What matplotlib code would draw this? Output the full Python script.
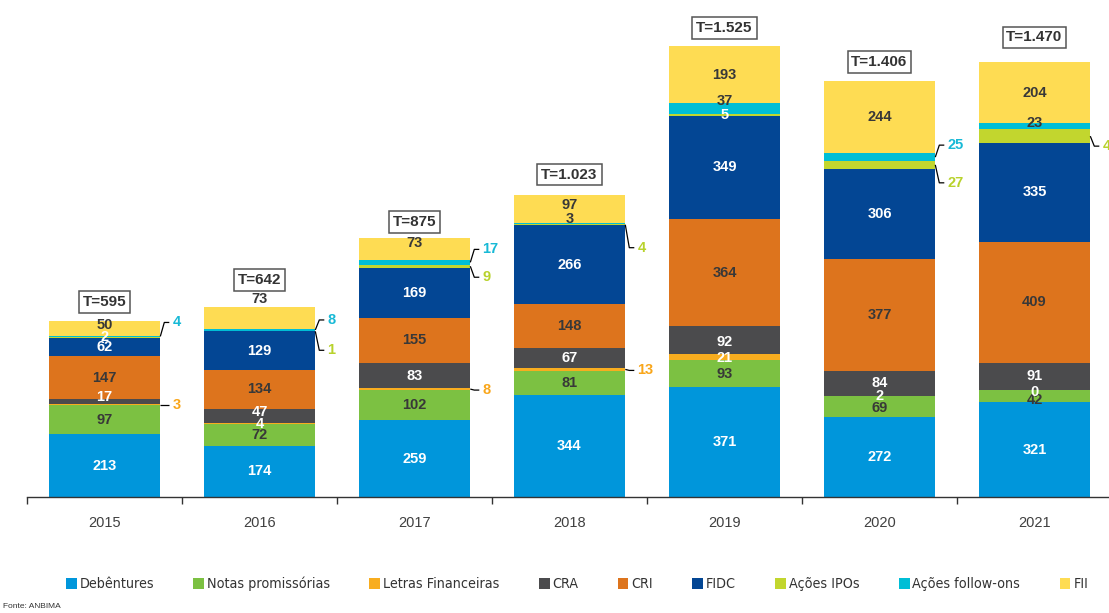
import matplotlib
matplotlib.use("Agg")
import matplotlib.pyplot as plt
from matplotlib import font_manager as fm
from matplotlib.patches import Patch
import numpy as np

years = ['2015', '2016', '2017', '2018', '2019', '2020', '2021']
series_names = ['Debêntures', 'Notas promissórias', 'Letras Financeiras', 'CRA', 'CRI',
                'FIDC', 'Ações IPOs', 'Ações follow-ons', 'FII']
debentures = [213, 174, 259, 344, 371, 272, 321]
notas = [97, 72, 102, 81, 93, 69, 42]
letras = [3, 4, 8, 13, 21, 2, 0]
cra = [17, 47, 83, 67, 92, 84, 91]
cri = [147, 134, 155, 148, 364, 377, 409]
fidc = [62, 129, 169, 266, 349, 306, 335]
ipos = [2, 1, 9, 4, 5, 27, 45]
follow_ons = [4, 8, 17, 3, 37, 25, 23]
fii = [50, 73, 73, 97, 193, 244, 204]
totals = [595, 642, 875, 1023, 1525, 1406, 1470]

values = [debentures, notas, letras, cra, cri, fidc, ipos, follow_ons, fii]
colors = ['#0096DB', '#7CC142', '#F8AD1F', '#4B4B4D', '#DD741D', '#034694',
          '#C2D62E', '#00BED6', '#FEDC53']
ext_colors = {2: '#F9A61A', 6: '#B8D22C', 7: '#17B9D6'}
inside_white = {0, 2, 3, 5, 6}
DARK = '#383838'

names = {f.name for f in fm.fontManager.ttflist}
num_font = 'Liberation Sans' if 'Liberation Sans' in names else 'DejaVu Sans'

# find a condensed/narrow face for the legend
leg_prop = None
for f in fm.fontManager.ttflist:
    fn = f.fname.lower()
    if ('narrow' in fn or 'condensed' in fn) and 'bold' not in fn and 'oblique' not in fn \
            and 'italic' not in fn and ('liberation' in fn or 'dejavusans' in fn.replace('-', '')):
        if leg_prop is None or 'liberation' in fn:
            leg_prop = fm.FontProperties(fname=f.fname)
if leg_prop is None:
    leg_prop = fm.FontProperties(family=num_font)
leg_prop.set_size(10.5)

W, H = 1109, 613
fig = plt.figure(figsize=(W / 100, H / 100), dpi=100)
ax_left, ax_bottom, ax_w_px, ax_h_px = 27, 116, 1085, 497
ax = fig.add_axes([ax_left / W, ax_bottom / H, ax_w_px / W, ax_h_px / H])
ytop = 1681
ax.set_xlim(-0.5, 6.5)
ax.set_ylim(0, ytop)
px_x = 7.0 / ax_w_px
px_y = ytop / ax_h_px

x = np.arange(len(years))
bw = 0.72
bottom = np.zeros(len(years))
for k, (vals, col) in enumerate(zip(values, colors)):
    ax.bar(x, vals, bw, bottom=bottom, color=col, edgecolor='none', zorder=2)
    bottom += np.array(vals)

# label placement tweaks (pixels, positive = up)
inside_dy = {(3, 0): 5, (8, 0): 3, (3, 1): 4, (8, 2): 6, (7, 3): 5, (8, 3): 4,
             (2, 4): -1, (3, 4): -2, (7, 4): 8, (1, 5): -2, (1, 6): -4, (2, 6): -2,
             (7, 6): 3}
external = {(2, 0): 0, (7, 0): 14, (7, 1): 10, (6, 1): -19, (2, 2): -1, (7, 2): 13,
            (6, 2): -11, (2, 3): -1, (6, 3): -23, (7, 5): 12, (6, 5): -18, (6, 6): -10}
above = {(8, 1)}

cum = np.zeros(len(years))
for k, vals in enumerate(values):
    for i, v in enumerate(vals):
        base = cum[i]
        yc = base + v / 2.0
        if (k, i) in external:
            dy = external[(k, i)]
            xr = x[i] + bw / 2
            ly = yc + dy * px_y
            ax.plot([xr, xr + 4 * px_x, xr + 9 * px_x], [yc, ly, ly], color='black',
                    lw=0.9, zorder=3, clip_on=False, solid_capstyle='butt')
            ax.text(xr + 12 * px_x, ly, str(v), color=ext_colors[k], fontsize=10.5,
                    fontweight='bold', ha='left', va='center', family=num_font,
                    clip_on=False)
        elif (k, i) in above:
            ax.text(x[i], base + v + 1 * px_y, str(v), color=DARK, fontsize=10.5,
                    fontweight='bold', ha='center', va='bottom', family=num_font)
        else:
            dy = inside_dy.get((k, i), 0)
            col = 'white' if k in inside_white else DARK
            ax.text(x[i], yc + dy * px_y, str(v), color=col, fontsize=10.5,
                    fontweight='bold', ha='center', va='center', family=num_font,
                    zorder=4)
    cum += np.array(vals)

box_offsets = [19, 27, 16, 20, 18, 19, 25]
for i, t in enumerate(totals):
    s = f'{t:,}'.replace(',', '.')
    ax.text(x[i], t + box_offsets[i] * px_y, f'T={s}', ha='center', va='center',
            fontsize=11, fontweight='bold', color='#333333', family=num_font,
            bbox=dict(boxstyle='square,pad=0.25', facecolor='white',
                      edgecolor='#555555', linewidth=1.1))

for s in ['left', 'right', 'top']:
    ax.spines[s].set_visible(False)
ax.spines['bottom'].set_color('#333333')
ax.spines['bottom'].set_linewidth(1.0)
ax.set_yticks([])
ax.set_xticks(x)
ax.set_xticklabels(years, fontsize=10.5, color='#404040', family=num_font)
ax.tick_params(axis='x', which='major', length=0, pad=14)
ax.set_xticks(np.arange(-0.5, 7.0, 1.0), minor=True)
ax.tick_params(axis='x', which='minor', length=5, width=1.0, color='#333333')

handles = [Patch(facecolor=c, edgecolor='none') for c in colors]
leg = fig.legend(handles, series_names, loc='center', bbox_to_anchor=(577 / W, 1 - 584 / H),
                 ncol=9, frameon=False, handlelength=0.7, handleheight=0.7,
                 handletextpad=0.2, columnspacing=2.7,
                 prop=leg_prop, labelcolor='#333333')

# shrink the legend to fit the reference span if the font is wider
fig.canvas.draw()
bb = leg.get_window_extent()
target = 1030.0
if bb.width > target:
    leg.remove()
    leg_prop.set_size(10.5 * (target - 9 * 20) / (bb.width - 9 * 20))
    leg = fig.legend(handles, series_names, loc='center',
                     bbox_to_anchor=(577 / W, 1 - 584 / H),
                     ncol=9, frameon=False, handlelength=0.75, handleheight=0.75,
                     handletextpad=0.2, columnspacing=2.7 * 10.5 / leg_prop.get_size(),
                     prop=leg_prop, labelcolor='#333333')

fig.text(3 / W, 1 - 607 / H, 'Fonte: ANBIMA', fontsize=6, color='#333333',
         ha='left', va='center', fontproperties=None, family=num_font)

fig.savefig('out.png', dpi=100)
